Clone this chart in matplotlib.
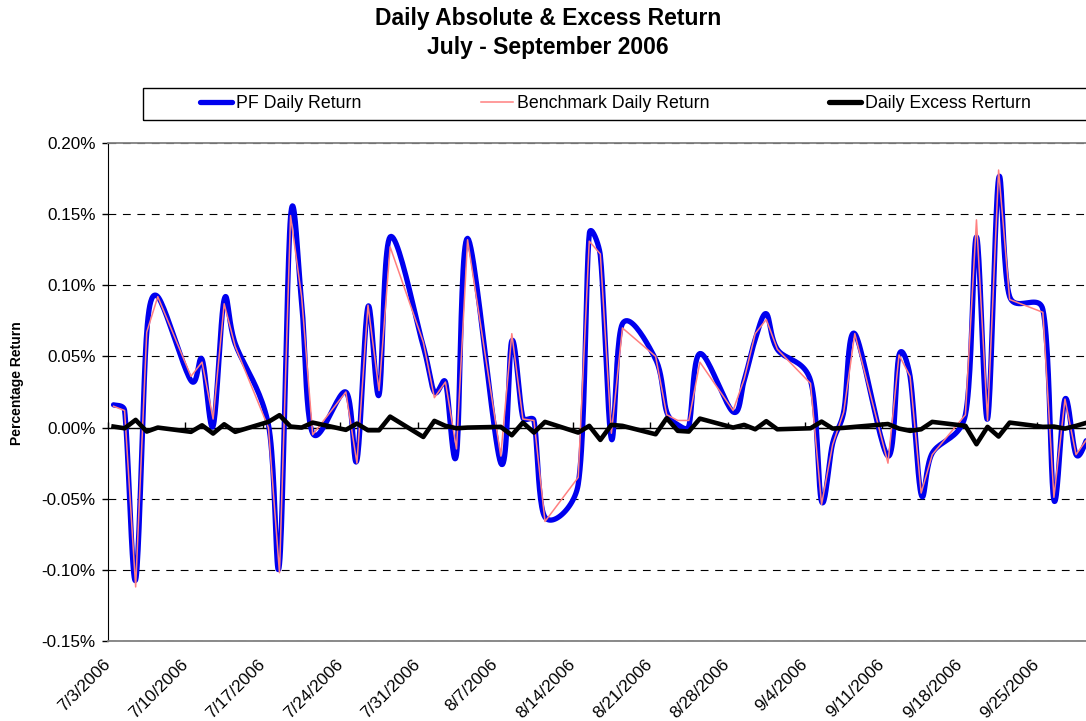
import numpy as np
import pandas as pd
import matplotlib
matplotlib.use('Agg')
import matplotlib.pyplot as plt
import matplotlib.dates as mdates
import matplotlib.ticker as mticker
from matplotlib.lines import Line2D
from matplotlib.patches import Rectangle

plt.rcParams['font.family'] = ['Liberation Sans', 'DejaVu Sans']
plt.rcParams['axes.unicode_minus'] = False

# trading days (weekdays) Jul 3 - Sep 29, 2006; values in percent
dates = pd.bdate_range('2006-07-03', '2006-09-29')

pf_return = [
    0.016, 0.012, -0.107, 0.067, 0.092,
    0.033, 0.048, 0.001, 0.090, 0.059,
    0.002, -0.096, 0.148, 0.088, -0.004,
    0.025, -0.023, 0.085, 0.023, 0.134,
    0.057, 0.025, 0.032, -0.019, 0.133,
    -0.025, 0.061, 0.007, 0.005, -0.063,
    -0.040, 0.136, 0.121, -0.008, 0.073,
    0.048, 0.011, 0.002, 0.001, 0.052,
    0.011, 0.033, 0.062, 0.080, 0.055,
    0.033, -0.052, -0.011, 0.011, 0.066,
    -0.020, 0.051, 0.036, -0.047, -0.018,
    0.009, 0.134, 0.006, 0.175, 0.092,
    0.083, -0.051, 0.020, -0.019, -0.008,
]
bench_return = [
    0.015, 0.012, -0.112, 0.067, 0.092,
    0.036, 0.046, 0.006, 0.087, 0.057,
    0.000, -0.102, 0.149, 0.092, -0.005,
    0.025, -0.025, 0.086, 0.026, 0.127,
    0.060, 0.021, 0.032, -0.015, 0.132,
    -0.020, 0.066, 0.006, 0.005, -0.066,
    -0.035, 0.131, 0.122, -0.004, 0.070,
    0.050, 0.009, 0.005, 0.005, 0.046,
    0.012, 0.034, 0.066, 0.076, 0.055,
    0.031, -0.054, -0.012, 0.011, 0.066,
    -0.025, 0.051, 0.036, -0.046, -0.019,
    0.009, 0.146, 0.005, 0.181, 0.090,
    0.081, -0.049, 0.020, -0.019, -0.008,
]
excess_return = [
    0.0007, -0.0005, 0.0054, -0.0028, 0.0,
    -0.0030, 0.0016, -0.0042, 0.0023, -0.0030,
    0.0040, 0.0087, 0.0007, 0.0, 0.0035,
    -0.0016, 0.0028, -0.0019, -0.0019, 0.0077,
    -0.0066, 0.0047, 0.0012, -0.0005, 0.0,
    0.0005, -0.0054, 0.0035, -0.0035, 0.0040,
    -0.0035, 0.0012, -0.0087, 0.0019, 0.0012,
    -0.0047, 0.0066, -0.0023, -0.0028, 0.0063,
    0.0, 0.0019, -0.0012, 0.0045, -0.0012,
    -0.0005, 0.0042, -0.0007, -0.0002, 0.0005,
    0.0025, -0.0007, -0.0023, -0.0012, 0.0040,
    0.0012, -0.0117, 0.0005, -0.0063, 0.0035,
    0.0005, 0.0007, -0.0007, 0.0012, 0.0035,
]
labels = ['PF Daily Return', 'Benchmark Daily Return', 'Daily Excess Rerturn']

BLUE = '#0000EE'
PINK = '#FF8080'

W, H = 1086, 721
fig = plt.figure(figsize=(W / 100, H / 100), dpi=100)
ax = fig.add_axes([108 / W, 1 - 641 / H, (1086 - 108) / W, (641 - 143) / H])

start = mdates.date2num(pd.Timestamp('2006-07-03'))
x = mdates.date2num(dates) + 0.5   # points sit in the middle of each day
ax.set_xlim(start, start + 88.4)
ax.set_ylim(-0.15, 0.20)


def smooth(ax, x, y, n=24):
    # Excel-style smoothed line: Bezier through the points, built in screen
    # space, with the handles kept to half of each segment to limit overshoot
    pts = ax.transData.transform(np.column_stack([x, y]))
    P = np.vstack([pts[0], pts, pts[-1]])
    t = np.linspace(0, 1, n)[:, None]
    segs = []
    for i in range(len(pts) - 1):
        p0, p1, p2, p3 = P[i], P[i + 1], P[i + 2], P[i + 3]
        d12 = np.hypot(*(p2 - p1))
        d02 = np.hypot(*(p2 - p0)) or 1
        d13 = np.hypot(*(p3 - p1)) or 1
        f0 = min(1 / 6, d12 / d02 / 2)
        f1 = min(1 / 6, d12 / d13 / 2)
        c1 = p1 + (p2 - p0) * f0
        c2 = p2 - (p3 - p1) * f1
        seg = (1 - t)**3 * p1 + 3 * (1 - t)**2 * t * c1 + 3 * (1 - t) * t**2 * c2 + t**3 * p2
        segs.append(seg if i == 0 else seg[1:])
    curve = ax.transData.inverted().transform(np.vstack(segs))
    return curve[:, 0], curve[:, 1]


ax.plot(*smooth(ax, x, pf_return), color=BLUE, lw=3.8,
        solid_joinstyle='round', solid_capstyle='round', zorder=3)
ax.plot(x, bench_return, color=PINK, lw=1.1, zorder=4)
ax.plot(x, excess_return, color='black', lw=3.3,
        solid_joinstyle='round', zorder=5)

# y axis
ax.set_yticks(np.round(np.arange(-0.15, 0.201, 0.05), 2))
ax.yaxis.set_major_formatter(mticker.PercentFormatter(xmax=100, decimals=2))
ax.tick_params(axis='y', direction='out', length=4, width=1, pad=5, labelsize=12.3)
ax.grid(axis='y', color='black', lw=0.8, linestyle=(0, (7, 6)))
ax.set_axisbelow(True)

# x axis (weekly)
ticks = mdates.date2num(pd.date_range('2006-07-03', '2006-09-25', freq='7D'))
ax.set_xticks(ticks)
ax.set_xticklabels([f'{d.month}/{d.day}/{d.year}'
                    for d in mdates.num2date(ticks)])
ax.tick_params(axis='x', length=0, pad=15, labelsize=12.3)
for lbl in ax.get_xticklabels():
    lbl.set_rotation(45)
    lbl.set_ha('right')
    lbl.set_va('center')
    lbl.set_rotation_mode('anchor')

for s in ('top', 'bottom'):
    ax.spines[s].set_color('#808080')
    ax.spines[s].set_linewidth(1.3)
ax.spines['left'].set_color('black')
ax.spines['right'].set_visible(False)

# horizontal axis line at zero with its tick marks
zero_pos = (0 - (-0.15)) / 0.35
sec = ax.secondary_xaxis(zero_pos)
sec.set_xticks(ticks)
sec.xaxis.set_major_formatter(mticker.NullFormatter())
sec.tick_params(direction='in', length=4, width=1, color='black')
for s in sec.spines.values():
    s.set_color('black')
    s.set_linewidth(1)

fig.text(17 / W, 1 - 383 / H, 'Percentage Return', rotation=90,
         fontsize=10, fontweight='bold', ha='center', va='center')
fig.text(548 / W, 1 - 33 / H, 'Daily Absolute & Excess Return\nJuly - September 2006',
         ha='center', va='center', fontsize=16.5, fontweight='bold', linespacing=1.35)

# legend
handles = [Line2D([], [], color=BLUE, lw=3.8, solid_capstyle='round'),
           Line2D([], [], color=PINK, lw=1.1),
           Line2D([], [], color='black', lw=3.8, solid_capstyle='round')]
fig.legend(handles, labels, loc='center', ncol=3, mode='expand',
           bbox_to_anchor=(200 / W, 1 - 120 / H, (1031 - 200) / W, 32 / H),
           bbox_transform=fig.transFigure, frameon=False, borderpad=0,
           borderaxespad=0, handlelength=1.8, handletextpad=0.25, fontsize=12.8)
fig.add_artist(Rectangle((143 / W, 1 - 120 / H), (1095 - 143) / W, 32 / H,
                         transform=fig.transFigure, fill=False,
                         edgecolor='black', lw=1))

fig.savefig('out.png', dpi=100)
